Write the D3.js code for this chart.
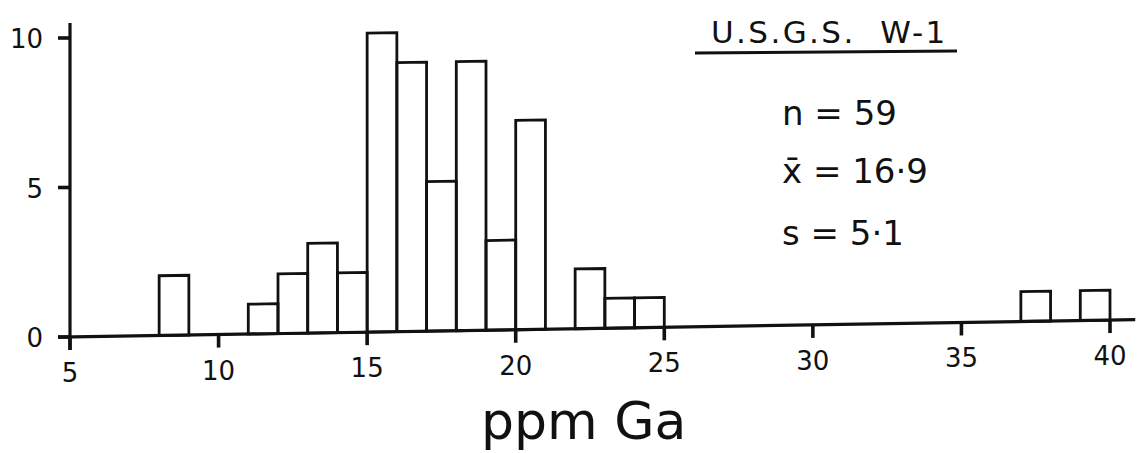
<!DOCTYPE html>
<html>
<head>
<meta charset="utf-8">
<script src="https://cdn.jsdelivr.net/npm/d3@7"></script>
<style>
  html, body { margin: 0; padding: 0; background: #fff; }
  svg { display: block; }
  text { font-family: "DejaVu Sans", sans-serif; fill: #111; }
</style>
</head>
<body>
<script>
// ---- data ----
const binStarts = [8, 11, 12, 13, 14, 15, 16, 17, 18, 19, 20, 22, 23, 24, 37, 39];
const counts    = [2, 1, 2, 3, 2, 10, 9, 5, 9, 3, 7, 2, 1, 1, 1, 1];
const binWidth = 1;
const xTicks = [5, 10, 15, 20, 25, 30, 35, 40];
const yTicks = [0, 5, 10];
const xTitle = "ppm Ga";
const sampleName = "U.S.G.S.  W-1";
const statLines = ["n = 59", "x\u0304 = 16\u00B79", "s = 5\u00B71"];

const W = 1143, H = 453;
const ink = "#111";

const svg = d3.select("body").append("svg")
  .attr("width", W).attr("height", H)
  .style("background", "#fff");

const x = d3.scaleLinear().domain([5, 40]).range([70, 1110]);
const y = d3.scaleLinear().domain([0, 10]).range([337, 38]);

const shear = -0.0163; // scan is slightly sheared
const sy = (px, py) => py + shear * (px - 70);

const bins = binStarts.map((s, i) => ({ start: s, count: counts[i] }));

// bars as sheared quadrilaterals
svg.selectAll("path.bar")
  .data(bins)
  .join("path")
  .attr("class", "bar")
  .attr("d", d => {
    const x0 = x(d.start), x1 = x(d.start + binWidth);
    const y0 = y(0), y1 = y(d.count);
    return `M${x0},${sy(x0, y0)}L${x0},${sy(x0, y1)}L${x1},${sy(x1, y1)}L${x1},${sy(x1, y0)}Z`;
  })
  .attr("fill", "none")
  .attr("stroke", ink)
  .attr("stroke-width", 2.8);

// x tick marks
svg.selectAll("path.xtick")
  .data(xTicks)
  .join("path")
  .attr("class", "xtick")
  .attr("d", d => `M${x(d)},${sy(x(d), y(0))}V${sy(x(d), y(0)) + 13}`)
  .attr("stroke", ink)
  .attr("stroke-width", 3.6);

// x tick labels
svg.selectAll("text.xlab")
  .data(xTicks)
  .join("text")
  .attr("class", "xlab")
  .attr("x", d => x(d))
  .attr("y", d => sy(x(d), y(0)) + 45)
  .attr("text-anchor", "middle")
  .style("font-size", "26px")
  .text(d => d);

// baseline
svg.append("path")
  .attr("d", `M${x(5) - 12},${sy(x(5) - 12, y(0))}L${x(40.85)},${sy(x(40.85), y(0))}`)
  .attr("stroke", ink).attr("stroke-width", 3.2);

// y tick marks
svg.selectAll("path.ytick")
  .data(yTicks)
  .join("path")
  .attr("class", "ytick")
  .attr("d", d => `M${x(5) - 12},${y(d)}H${x(5)}`)
  .attr("stroke", ink)
  .attr("stroke-width", 3.6);

// y tick labels
svg.selectAll("text.ylab")
  .data(yTicks)
  .join("text")
  .attr("class", "ylab")
  .attr("x", x(5) - 27)
  .attr("y", d => y(d) + 10)
  .attr("text-anchor", "end")
  .style("font-size", "26px")
  .text(d => d);

// y axis line
svg.append("path")
  .attr("d", `M${x(5)},${y(10.5)}V${y(0) + 13}`)
  .attr("stroke", ink).attr("stroke-width", 3.2);

// axis title
svg.append("text")
  .attr("x", 481).attr("y", 439)
  .style("font-size", "52px")
  .text(xTitle);

// sample name + underline
svg.append("text")
  .attr("x", 711).attr("y", 43)
  .style("font-size", "31px")
  .style("letter-spacing", "2.4px")
  .style("white-space", "pre")
  .text(sampleName);
svg.append("line")
  .attr("x1", 695).attr("x2", 957)
  .attr("y1", 53).attr("y2", 51)
  .attr("stroke", ink).attr("stroke-width", 3);

// statistics
const statY = [125, 183, 245];
svg.selectAll("text.stat")
  .data(statLines)
  .join("text")
  .attr("class", "stat")
  .attr("x", 782)
  .attr("y", (d, i) => statY[i])
  .style("font-size", "34px")
  .style("white-space", "pre")
  .text(d => d);
</script>
</body>
</html>
